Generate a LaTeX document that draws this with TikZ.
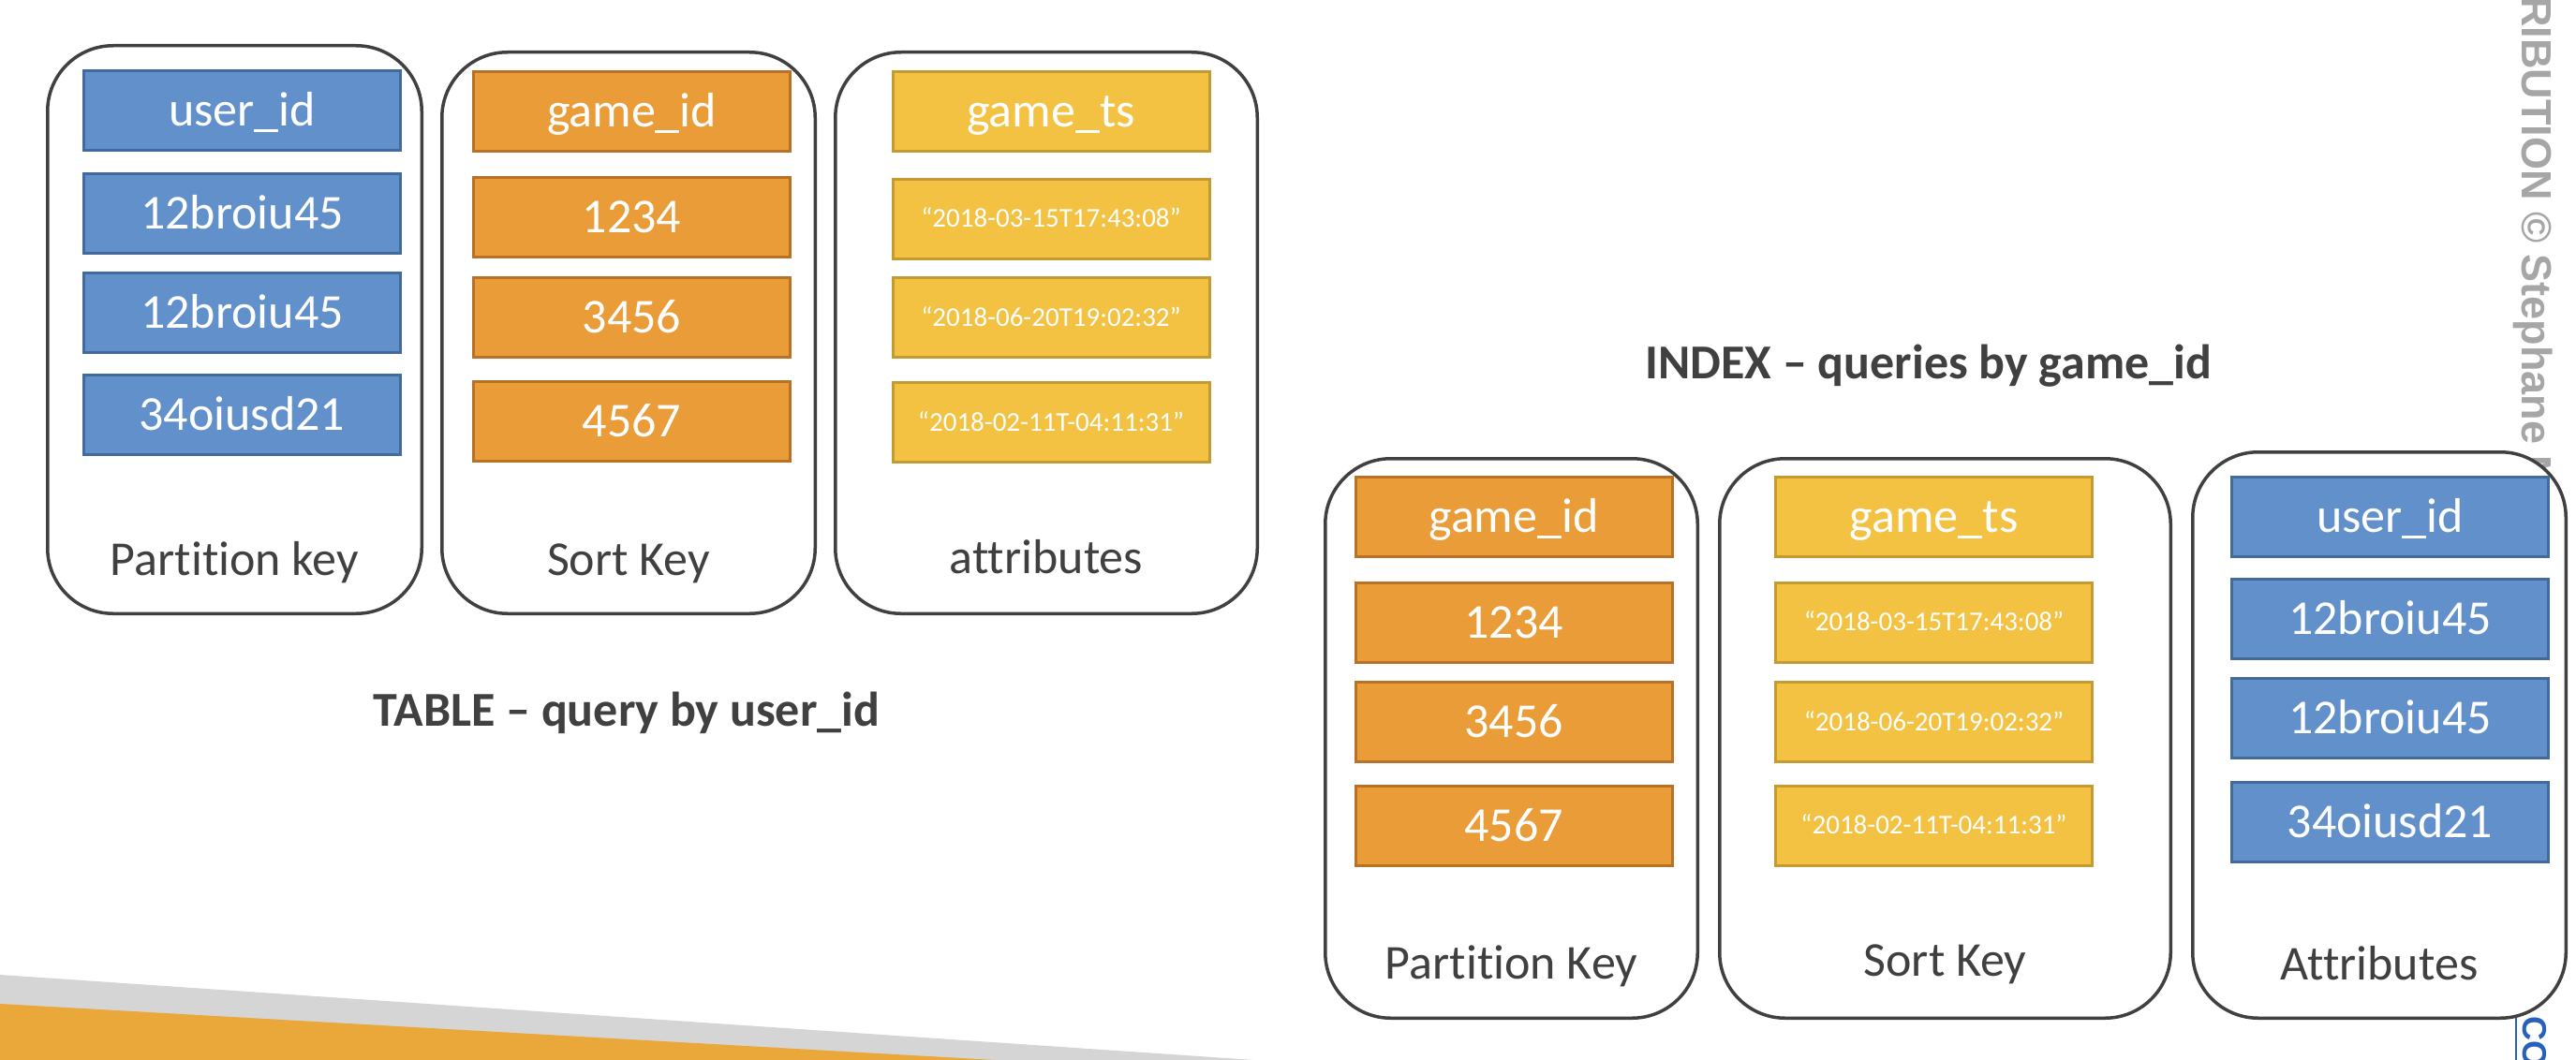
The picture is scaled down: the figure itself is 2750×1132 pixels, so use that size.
\documentclass[tikz,border=0pt]{standalone}
\usepackage{fontspec}
\setmainfont{Carlito}[RawFeature={-liga}]
\newfontfamily\dgwmfont{Liberation Sans}
\newcommand{\dgcellfont}{\fontsize{52}{62}\selectfont}
\newcommand{\dgdatefont}{\fontsize{29}{35}\selectfont}
\newcommand{\dgtitlefont}{\fontsize{52}{62}\selectfont\bfseries}
\definecolor{bfill}{RGB}{97,144,203}
\definecolor{bline}{RGB}{66,106,155}
\definecolor{ofill}{RGB}{233,156,55}
\definecolor{oline}{RGB}{183,114,40}
\definecolor{yfill}{RGB}{244,194,66}
\definecolor{yline}{RGB}{195,155,50}
\definecolor{contline}{RGB}{64,64,64}
\definecolor{labelgray}{RGB}{64,64,64}
\definecolor{wmgray}{RGB}{166,166,166}
\definecolor{coblue}{RGB}{40,96,190}
\definecolor{stripegray}{RGB}{213,213,213}
\definecolor{stripeorange}{RGB}{235,168,58}
\begin{document}
\begin{tikzpicture}[x=1pt,y=-1pt,
  cont/.style={draw=contline, line width=3.5pt, rounded corners=70pt, fill=white, inner sep=0pt},
  cell/.style={line width=3pt, inner sep=0pt, minimum width=338pt, minimum height=85pt,
    text=white, font=\dgcellfont, text height=33pt, text depth=0pt},
  bluecell/.style={cell, fill=bfill, draw=bline},
  orangecell/.style={cell, fill=ofill, draw=oline},
  yellowcell/.style={cell, fill=yfill, draw=yline},
  datecell/.style={yellowcell, font=\dgdatefont, text height=18.3pt},
  keylabel/.style={anchor=base, text=labelgray, font=\dgcellfont, inner sep=0pt},
  titlelabel/.style={anchor=base, text=labelgray, font=\dgtitlefont, inner sep=0pt},
  watermark/.style={rotate=-90, anchor=base west, inner sep=0pt, text=wmgray,
    font=\dgwmfont\bfseries\fontsize{45}{54}\selectfont},
  cotext/.style={rotate=-90, anchor=base west, inner sep=0pt, text=coblue,
    font=\dgwmfont\bfseries\fontsize{36}{43}\selectfont}
]
\useasboundingbox (0,0) rectangle (2750,1132);
\clip (0,0) rectangle (2750,1132);
\fill[white] (0,0) rectangle (2750,1132);

% bottom-left stripes
\fill[stripegray] (0,1041) -- (1339,1132) -- (0,1132) -- cycle;
\fill[stripeorange] (0,1072) -- (1062,1132) -- (0,1132) -- cycle;

% watermark text at right edge
\node[watermark] (wm) at (2692,-4) {RIBUTION © Stephane M};
\coordinate (colinetop) at (2686,1086);
\coordinate (colinebot) at (2686,1132);
\draw[coblue, line width=2.5pt] (colinetop) -- (colinebot);
\node[cotext] (co) at (2693,1085) {CO};

% ---------- TABLE ----------
\node[cont, minimum width=399.5pt, minimum height=606.5pt] (t1) at (250.5,352) {};
\node[cont, minimum width=398.5pt, minimum height=599.5pt] (t2) at (671,355.5) {};
\node[cont, minimum width=450.5pt, minimum height=599.5pt] (t3) at (1117,355.5) {};

\node[bluecell] (tb1) at (258.5,118) {user\_id};
\node[bluecell] (tb2) at (258.5,227.5) {12broiu45};
\node[bluecell] (tb3) at (258.5,334) {12broiu45};
\node[bluecell] (tb4) at (258.5,443) {34oiusd21};

\node[orangecell] (to1) at (674.5,119) {game\_id};
\node[orangecell] (to2) at (674.5,232) {1234};
\node[orangecell] (to3) at (674.5,339) {3456};
\node[orangecell] (to4) at (674.5,449.5) {4567};

\node[yellowcell] (ty1) at (1122,119) {game\_ts};
\node[datecell] (ty2) at (1122,233.5) {“2018-03-15T17:43:08”};
\node[datecell] (ty3) at (1122,339) {“2018-06-20T19:02:32”};
\node[datecell] (ty4) at (1122,451) {“2018-02-11T-04:11:31”};

\node[keylabel] (tl1) at (250.5,614) {Partition key};
\node[keylabel] (tl2) at (671,614) {Sort Key};
\node[keylabel] (tl3) at (1117,612) {attributes};

\node[titlelabel] (ttitle) at (669,775) {TABLE – query by user\_id};

% ---------- INDEX ----------
\node[titlelabel] (ititle) at (2059,404) {INDEX – queries by game\_id};

\node[cont, minimum width=397.5pt, minimum height=597.5pt] (i1) at (1613.5,788.5) {};
\node[cont, minimum width=481.5pt, minimum height=597.5pt] (i2) at (2076.5,788.5) {};
\node[cont, minimum width=398.5pt, minimum height=604.5pt] (i3) at (2540,785) {};

\node[orangecell] (io1) at (1616,552) {game\_id};
\node[orangecell] (io2) at (1616,664.5) {1234};
\node[orangecell] (io3) at (1616,771) {3456};
\node[orangecell] (io4) at (1616,881.5) {4567};

\node[yellowcell] (iy1) at (2064.5,552) {game\_ts};
\node[datecell] (iy2) at (2064.5,664.5) {“2018-03-15T17:43:08”};
\node[datecell] (iy3) at (2064.5,771) {“2018-06-20T19:02:32”};
\node[datecell] (iy4) at (2064.5,881.5) {“2018-02-11T-04:11:31”};

\node[bluecell] (ib1) at (2551.5,552) {user\_id};
\node[bluecell] (ib2) at (2551.5,660.5) {12broiu45};
\node[bluecell] (ib3) at (2551.5,766.5) {12broiu45};
\node[bluecell] (ib4) at (2551.5,877.5) {34oiusd21};

\node[keylabel] (il1) at (1613.5,1045) {Partition Key};
\node[keylabel] (il2) at (2076.5,1042) {Sort Key};
\node[keylabel] (il3) at (2540,1046) {Attributes};
\end{tikzpicture}
\end{document}
